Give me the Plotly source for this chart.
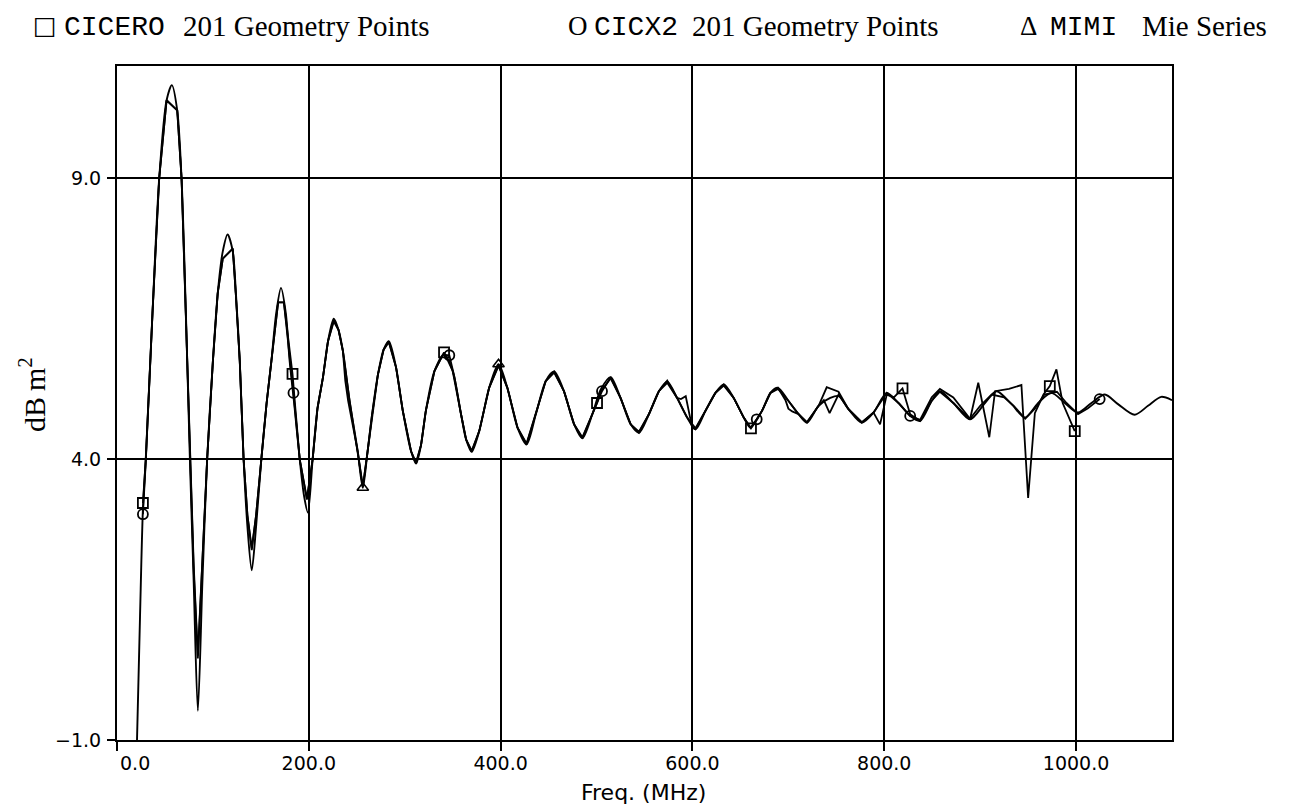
import plotly.graph_objects as go

# ---------------- data ----------------
mimi_freq = [20, 24, 27, 30, 37, 44, 51.7, 57.2, 62.8, 67.3, 72, 76, 80, 84.3, 89, 94, 100, 105,
             110.3, 115.3, 120.7, 124, 128, 132, 136, 140.5, 145, 150.5, 156, 161, 166, 171, 176,
             180, 185, 190.5, 195, 199, 204, 209, 214.7, 220, 226, 231, 235.5, 242.5, 251, 256.3,
             261, 266, 272, 278, 283.4, 291, 298, 306.6, 311.8, 317, 322, 331, 341.3, 350, 358.7,
             364, 369.8, 377.7, 388, 397.8, 407, 417.6, 427, 436.7, 447, 455.8, 466, 476.6, 485.2,
             495.6, 504.4, 514.7, 525, 535.6, 544.2, 554.6, 565, 573.7, 584, 594.5, 603.2, 613.6,
             624, 632.7, 643, 653.5, 660.5, 672.5, 681.3, 689.2, 700, 710.7, 719.4, 731.5, 743.7,
             752.3, 762.7, 776.6, 788.8, 802.6, 814.8, 827, 837.3, 849.5, 858, 872, 889.4, 905,
             917, 932.7, 946.6, 960.5, 974.3, 988.2, 1002, 1016, 1030, 1043.7, 1061, 1075, 1088.8,
             1100]
mimi_db = [-1.6, 1.2, 3.1, 4.0, 6.6, 9.0, 10.39, 10.66, 10.21, 9.0, 6.5, 4.0, 1.8, -0.48, 1.8, 4.0,
           5.75, 6.95, 7.7, 8.0, 7.7, 6.95, 5.75, 4.0, 2.8, 2.02, 2.8, 4.0, 5.0, 5.75, 6.6, 7.05,
           6.6, 5.75, 4.95, 4.0, 3.35, 3.05, 4.0, 4.9, 5.45, 6.1, 6.5, 6.3, 5.93, 5.04, 4.14, 3.49,
           4.1, 4.8, 5.5, 5.95, 6.1, 5.63, 4.86, 4.14, 3.92, 4.25, 4.86, 5.57, 5.87, 5.57, 4.8,
           4.35, 4.13, 4.5, 5.27, 5.69, 5.27, 4.56, 4.26, 4.8, 5.39, 5.56, 5.21, 4.62, 4.37,
           4.8, 5.24, 5.46, 5.09, 4.62, 4.47, 4.8, 5.21, 5.38, 5.09, 4.74, 4.53, 4.86,
           5.18, 5.33, 5.09, 4.74, 4.56, 4.86, 5.18, 5.27, 5.04, 4.8, 4.65, 4.95, 5.09,
           5.125, 4.89, 4.65, 4.83, 5.18, 5.0, 4.77, 4.68, 5.04, 5.21, 5.0, 4.71, 5.0,
           5.21, 4.98, 4.74, 5.0, 5.18, 5.0, 4.83, 5.0, 5.15, 4.98, 4.79, 4.95, 5.11,
           5.05]

cicero_freq = [27, 30, 37, 44, 51.7, 62.8, 67.3, 72, 76, 80, 84.3, 89, 94, 100, 105, 110.3, 120.7,
               124, 128, 132, 136, 140.5, 145, 150.5, 156, 161, 168, 174, 178.5, 183, 186, 190.5,
               198, 204, 209, 214.7, 220, 226, 231, 235.5, 242.5, 251, 256.3, 261, 266, 272, 278,
               283.4, 291, 298, 306.6, 311.8, 317, 322, 331, 341, 350, 358.7, 364, 369.8, 377.7,
               388, 397.8, 407, 417.6, 427, 436.7, 447, 455.8, 466, 476.6, 485.2, 495.6, 500.5,
               504.4, 514.7, 525, 535.6, 544.2, 554.6, 565, 573.7, 584, 594.5, 603.2, 613.6, 624,
               632.7, 643, 653.5, 661, 672.5, 681.3, 689.2, 700, 710.7, 719.4, 731.5, 740, 752.3,
               762.7, 776.6, 788.8, 795.6, 802.6, 810, 819, 827, 837.3, 849.5, 858, 872, 889.4,
               898, 909.5, 915.5, 930, 943, 950, 957, 966, 972.6, 979.5, 986, 992, 998.6]
cicero_db = [3.22, 4.0, 6.6, 9.0, 10.39, 10.21, 9.0, 6.5, 4.0, 2.1, 0.5, 2.1, 4.0, 5.75, 6.95, 7.57,
             7.75, 6.9, 5.75, 4.0, 3.0, 2.41, 3.0, 4.0, 5.0, 5.75, 6.79, 6.79, 6.1, 5.52, 4.9, 4.0,
             3.3, 4.0, 4.9, 5.45, 6.1, 6.45, 6.3, 5.93, 5.04, 4.14, 3.52, 4.1, 4.8, 5.5, 5.95,
             6.08, 5.63, 4.86, 4.14, 3.94, 4.25, 4.86, 5.57, 5.9, 5.57, 4.8, 4.35, 4.15, 4.5,
             5.27, 5.66, 5.27, 4.56, 4.28, 4.8, 5.39, 5.54, 5.21, 4.62, 4.39, 4.8, 5.0,
             5.2, 5.44, 5.09, 4.62, 4.49, 4.8, 5.21, 5.36, 5.09, 4.74, 4.55, 4.86, 5.18,
             5.31, 5.09, 4.74, 4.55, 4.86, 5.18, 5.25, 5.04, 4.8, 4.66, 4.95, 5.28, 5.2,
             4.89, 4.66, 4.83, 4.62, 5.15, 5.1, 5.26, 4.8, 4.68, 5.04, 5.2, 5.0, 4.71,
             5.36, 4.39, 5.21, 5.25, 5.32, 3.31, 4.82, 5.15, 5.3, 5.6, 5.0, 4.75, 4.5]

cicx2_freq = [27, 30, 37, 44, 51.7, 62.8, 67.3, 72, 76, 80, 84.3, 89, 94, 100, 105, 110.3, 120.7,
              124, 128, 132, 136, 140.5, 145, 150.5, 156, 161, 168, 174, 178.5, 184, 190.5, 198,
              204, 209, 214.7, 220, 226, 231, 235.5, 238, 241, 251, 256.3, 261, 266, 272, 278,
              283.4, 291, 298, 306.6, 311.8, 317, 322, 331, 340, 346.5, 352, 358.7, 364, 369.8,
              377.7, 388, 397.8, 407, 417.6, 427, 436.7, 447, 455.8, 466, 476.6, 485.2, 495.6,
              505.7, 514.7, 525, 535.6, 544.2, 554.6, 565, 573.7, 584, 588, 593, 599.7, 603.2,
              613.6, 624, 632.7, 643, 653.5, 660.5, 667, 672.5, 681.3, 689.2, 697, 700, 704,
              710.7, 719.4, 731.5, 737, 743, 752.3, 762.7, 776.6, 788.8, 802.6, 814.8, 827,
              837.3, 849.5, 858, 872, 889.4, 900, 912, 925, 935, 947, 957, 967, 980, 990, 1002,
              1012, 1024.6]
cicx2_db = [3.02, 3.95, 6.6, 9.0, 10.39, 10.21, 9.0, 6.5, 4.0, 2.0, 0.45, 2.05, 4.0, 5.75, 6.95, 7.57,
            7.75, 6.9, 5.75, 4.0, 3.0, 2.38, 3.0, 4.0, 5.0, 5.75, 6.79, 6.79, 6.1, 5.18, 4.0, 3.28,
            4.0, 4.9, 5.45, 6.1, 6.48, 6.3, 5.93, 5.4, 5.04, 4.14, 3.5, 4.1, 4.8, 5.5, 5.95,
            6.1, 5.63, 4.86, 4.14, 3.92, 4.25, 4.86, 5.57, 5.86, 5.85, 5.45, 4.8, 4.35, 4.13,
            4.5, 5.27, 5.68, 5.27, 4.56, 4.26, 4.8, 5.39, 5.56, 5.21, 4.62, 4.37, 4.8,
            5.21, 5.46, 5.09, 4.62, 4.47, 4.8, 5.21, 5.4, 5.09, 5.07, 5.12, 4.56, 4.53,
            4.86, 5.18, 5.33, 5.09, 4.74, 4.56, 4.71, 4.86, 5.18, 5.27, 5.05, 4.9, 4.85,
            4.8, 4.65, 4.95, 5.05, 4.82, 5.15, 4.89, 4.65, 4.83, 5.18, 5.0, 4.77,
            4.7, 5.1, 5.25, 5.1, 4.72, 4.95, 5.15, 5.1, 4.95, 4.72, 4.9, 5.15, 5.2, 5.0, 4.8,
            4.9, 5.07]

# plotted symbol positions
cicero_mark_freq = [27, 183, 341, 500.5, 661, 819, 972.6, 998.6]
cicero_mark_db = [3.22, 5.52, 5.9, 5.0, 4.55, 5.26, 5.3, 4.5]
cicx2_mark_freq = [27, 184, 346.5, 505.7, 667, 827, 1024.6]
cicx2_mark_db = [3.02, 5.18, 5.85, 5.21, 4.71, 4.77, 5.07]
mimi_mark_freq = [256.3, 397.8]
mimi_mark_db = [3.49, 5.69]

x_ticks = [0, 200, 400, 600, 800, 1000]
x_tick_text = ["\u2007\u2007\u20070.0", "200.0", "400.0", "600.0", "800.0", "1000.0"]
y_ticks = [-1, 4, 9]
y_tick_text = ["\u22121.0", "4.0", "9.0"]

# ---------------- figure ----------------
OFF = 8                      # page body margin of the html page
W, H = 1296 - OFF, 807 - OFF
L, R, T, B = 117 - OFF, 124, 66 - OFF, 67
PW, PH = W - L - R, H - T - B


def px_x(p):
    return (p - OFF - L) / PW


def px_y(p):
    return (H - B - (p - OFF)) / PH


fig = go.Figure()
line = dict(color="black", width=1.8)
fig.add_trace(go.Scatter(x=mimi_freq, y=mimi_db, mode="lines",
                         line=dict(color="black", width=1.9, shape="spline", smoothing=0.8),
                         showlegend=False, hoverinfo="skip"))
fig.add_trace(go.Scatter(x=cicero_freq, y=cicero_db, mode="lines", line=line,
                         showlegend=False, hoverinfo="skip"))
fig.add_trace(go.Scatter(x=cicx2_freq, y=cicx2_db, mode="lines", line=line,
                         showlegend=False, hoverinfo="skip"))
fig.add_trace(go.Scatter(x=cicero_mark_freq, y=cicero_mark_db, mode="markers",
                         marker=dict(symbol="square-open", size=10, color="black",
                                     line=dict(width=1.8, color="black")),
                         showlegend=False, hoverinfo="skip"))
fig.add_trace(go.Scatter(x=cicx2_mark_freq, y=cicx2_mark_db, mode="markers",
                         marker=dict(symbol="circle-open", size=10, color="black",
                                     line=dict(width=1.8, color="black")),
                         showlegend=False, hoverinfo="skip"))
fig.add_trace(go.Scatter(x=mimi_mark_freq, y=mimi_mark_db, mode="markers",
                         marker=dict(symbol="triangle-up-open", size=10, color="black",
                                     line=dict(width=1.6, color="black")),
                         showlegend=False, hoverinfo="skip"))

tickfont = dict(family="DejaVu Sans", size=19, color="black")
fig.update_xaxes(range=[0, 1100], tickvals=x_ticks, ticktext=x_tick_text,
                 showgrid=True, gridcolor="black", gridwidth=2,
                 showline=True, linecolor="black", linewidth=2, mirror=True,
                 ticks="outside", ticklen=9, tickwidth=2, tickcolor="black",
                 ticklabelstandoff=-4, tickfont=tickfont, zeroline=False)
fig.update_yaxes(range=[-1, 11], tickvals=y_ticks, ticktext=y_tick_text,
                 showgrid=True, gridcolor="black", gridwidth=2,
                 showline=True, linecolor="black", linewidth=2, mirror=True,
                 ticks="outside", ticklen=8, tickwidth=2, tickcolor="black",
                 ticklabelstandoff=2, tickfont=tickfont, zeroline=False)

serif = "Liberation Serif, Times New Roman, serif"
mono = "Liberation Mono, Courier New, monospace"
ann = []
# (symbol x, symbol, code x, code, description x, description)
legend_items = [
    (31, "\u25A1", 62, "CICERO", 181, "201 Geometry Points"),
    (566, "O", 592, "CICX2", 690, "201 Geometry Points"),
    (1018, "\u0394", 1048, "MIMI", 1140, "Mie Series"),
]
LEG_Y = 26
for sx, sym, cx, code, dx, desc in legend_items:
    ann.append(dict(x=px_x(sx), y=px_y(LEG_Y), xref="paper", yref="paper",
                    xanchor="left", yanchor="middle", showarrow=False, text=sym,
                    font=dict(family="DejaVu Sans" if sym == "\u25A1" else serif,
                              size=25 if sym == "\u25A1" else 27, color="black")))
    ann.append(dict(x=px_x(cx), y=px_y(LEG_Y + 1), xref="paper", yref="paper",
                    xanchor="left", yanchor="middle", showarrow=False, text=code,
                    font=dict(family=mono, size=28, color="black")))
    ann.append(dict(x=px_x(dx), y=px_y(LEG_Y), xref="paper", yref="paper",
                    xanchor="left", yanchor="middle", showarrow=False, text=desc,
                    font=dict(family=serif, size=29, color="black")))
ann.append(dict(x=px_x(32), y=px_y(395), xref="paper", yref="paper", textangle=-90,
                xanchor="center", yanchor="middle", showarrow=False,
                text="dB\u2009m<sup>2</sup>", font=dict(family=serif, size=30, color="black")))
ann.append(dict(x=px_x(643), y=px_y(793), xref="paper", yref="paper",
                xanchor="center", yanchor="middle", showarrow=False,
                text="Freq. (MHz)", font=dict(family="DejaVu Sans", size=22, color="black")))

fig.update_layout(width=W, height=H, margin=dict(l=L, r=R, t=T, b=B),
                  paper_bgcolor="white", plot_bgcolor="white", annotations=ann,
                  showlegend=False)
fig.write_html("out.html")
